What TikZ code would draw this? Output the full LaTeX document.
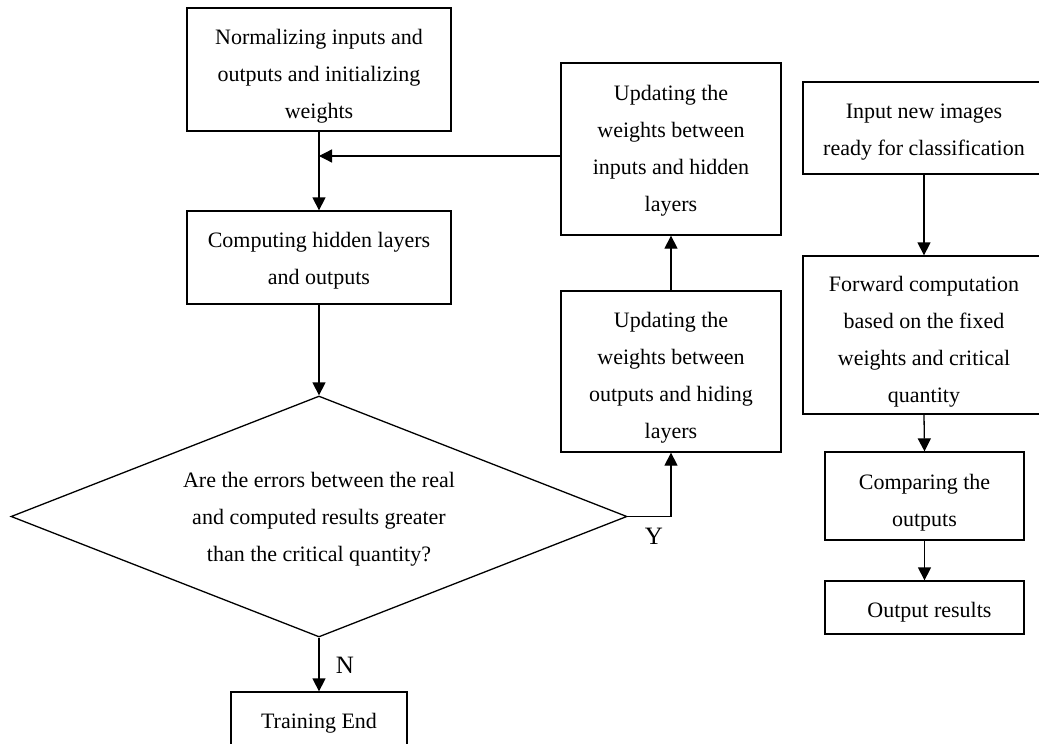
\documentclass[tikz,border=0pt]{standalone}
\usepackage{fontspec}
\setmainfont{Liberation Serif}
\usetikzlibrary{arrows.meta,shapes.geometric}
\newcommand\tup[1]{\rule{0pt}{#1}}
\begin{document}
\begin{tikzpicture}[x=1pt,y=-1pt,
  box/.style={draw, line width=1.3pt, align=center, inner sep=0pt,
    font=\fontsize{22}{37}\selectfont},
  arr/.style={line width=1.3pt, -{Triangle[length=13pt,width=13pt]}},
  lbl/.style={font=\fontsize{25}{28}\selectfont, inner sep=0pt}]
\useasboundingbox[fill=white] (0,0) rectangle (1039,744);
\node[box, minimum width=264pt, minimum height=123pt] (norm) at (319,69.5)
  {\tup{28pt}Normalizing inputs and\\outputs and initializing\\weights};
\node[box, minimum width=264pt, minimum height=93pt] (comp) at (319,257.5)
  {\tup{21pt}Computing hidden layers\\and outputs};
\node[draw, line width=1.3pt, shape=diamond, inner sep=0pt,
  minimum width=616pt, minimum height=241pt] (d) at (319,516.5) {};
\node[align=center, inner sep=0pt, font=\fontsize{22}{37}\selectfont] (dt) at (319,516.5)
  {\tup{20pt}Are the errors between the real\\and computed results greater\\than the critical quantity?};
\node[box, minimum width=176pt, minimum height=58pt] (endb) at (319,721)
  {\tup{19pt}Training End};
\node[box, minimum width=220pt, minimum height=172pt] (upd1) at (671,149)
  {\tup{19pt}Updating the\\weights between\\inputs and hidden\\layers};
\node[box, minimum width=220pt, minimum height=161pt] (upd2) at (671,371.5)
  {\tup{28pt}Updating the\\weights between\\outputs and hiding\\layers};
\node[box, minimum width=242pt, minimum height=92pt] (inp) at (924,128)
  {\tup{22pt}Input new images\\ready for classification};
\node[box, minimum width=242pt, minimum height=158pt] (fwd) at (924,335)
  {\tup{29pt}Forward computation\\based on the fixed\\weights and critical\\quantity};
\node[box, minimum width=199pt, minimum height=88pt] (cmp) at (924.5,496)
  {\tup{28pt}Comparing the\\outputs};
\node[box, minimum width=199pt, minimum height=53pt] (out) at (924.5,607.5)
  {\tup{25pt}\hspace{10pt}Output results};
\coordinate (j) at (319,156);
\draw[arr] (norm.south) -- (comp.north);
\draw[arr] (upd1.west |- j) -- (j);
\draw[arr] (comp.south) -- (d.north);
\draw[arr] (d.south) -- (endb.north);
\draw[arr] (d.east) -| (upd2.south);
\draw[arr] (upd2.north) -- (upd1.south);
\draw[arr] (inp.south) -- (fwd.north);
\draw[arr] (fwd.south) -- (cmp.north);
\draw[arr] (cmp.south) -- (out.north);
\node[lbl] (n) at (345,665) {N};
\node[lbl] (y) at (654,536) {Y};
\end{tikzpicture}
\end{document}
